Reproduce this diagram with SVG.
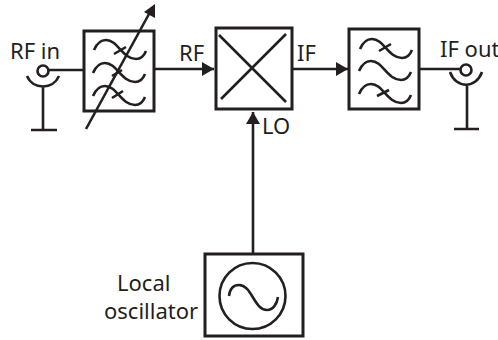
<svg xmlns="http://www.w3.org/2000/svg" width="498" height="340" viewBox="0 0 498 340">
<defs>
<marker id="arr" markerUnits="userSpaceOnUse" markerWidth="12" markerHeight="14" refX="12" refY="7" orient="auto"><path d="M0 0L12 7L0 14Z" fill="#231f20"/></marker>
<path id="w" d="M0 10C3 3 8 0 12 0C24 0 28 19 42 19C47 19 50 16 52 11"/>
</defs>
<style>
.l{fill:none;stroke:#231f20;stroke-width:2.6}
.b{fill:#fff;stroke:#231f20;stroke-width:3}
text{font-family:"Noto Sans","Open Sans",sans-serif;font-size:22px;fill:#231f20}
</style>
<g id="connectors" class="l">
<path d="M49 70H84"/>
<path d="M155 69H214" marker-end="url(#arr)"/>
<path d="M293 69H348" marker-end="url(#arr)"/>
<path d="M420 69H461"/>
<path d="M253 253V112" marker-end="url(#arr)"/>
</g>
<g id="rf-in">
<circle cx="43" cy="71" r="5.5" class="l"/>
<path class="l" d="M27 76C33 90 53 90 59 76M43 87V130M31 130H57"/>
<text x="10" y="59">RF in</text>
</g>
<g id="tunable-filter">
<rect x="84" y="31" width="70" height="80" class="b"/>
<g class="l">
<use href="#w" x="94" y="40"/><use href="#w" x="93" y="63"/><use href="#w" x="93" y="86"/>
<path d="M114 54L126 47M112 76L122 70M112 98L123 91"/>
<path d="M86 129L149 14"/>
</g>
<path d="M155 4L144 12L155 18Z" fill="#231f20"/>
</g>
<g id="rf-label"><text x="179" y="61">RF</text></g>
<g id="mixer">
<rect x="216" y="28" width="76" height="81" class="b"/>
<path class="l" d="M219 35L286 102M286 34L221 99"/>
</g>
<g id="if-label"><text x="297" y="61">IF</text></g>
<g id="lo-label"><text x="262" y="134">LO</text></g>
<g id="if-filter">
<rect x="349" y="29" width="70" height="80" class="b"/>
<g class="l">
<use href="#w" x="360" y="39"/><use href="#w" x="359" y="61"/><use href="#w" x="359" y="84"/>
<path d="M379 51L391 44M377 96L389 90"/>
</g>
</g>
<g id="if-out">
<circle cx="466" cy="70" r="5.5" class="l"/>
<path class="l" d="M450 72C456 89 476 89 482 72M467 86V129M454 129H479"/>
<text x="440" y="57">IF out</text>
</g>
<g id="local-oscillator">
<rect x="205" y="254" width="98" height="82" class="b"/>
<circle cx="252.500" cy="296" r="33" class="l"/>
<path class="l" d="M229 296C230 288 234 285 239 285C252 285 254 310 267 310C273 310 277 304 278 297"/>
<text x="117" y="291">Local</text>
<text x="104" y="319">oscillator</text>
</g>
</svg>
